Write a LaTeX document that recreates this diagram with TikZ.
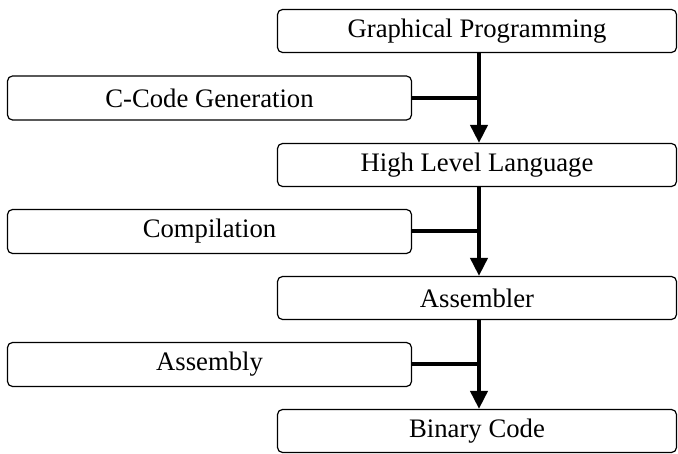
\documentclass[tikz,border=0pt]{standalone}
\usepackage{fontspec}
\setmainfont{Liberation Serif}
\usetikzlibrary{arrows.meta}
\begin{document}
\begin{tikzpicture}[x=1pt,y=-1pt,
  box/.style={draw=black, line width=1.2pt, rounded corners=5pt, fill=white,
    inner sep=0pt, font=\fontsize{26.7}{30}\selectfont},
  rbox/.style={box, minimum width=399pt, minimum height=43pt},
  lbox/.style={box, minimum width=404pt, minimum height=44pt},
  spine/.style={line width=4pt, -{Triangle[width=17pt,length=18pt]}},
  feed/.style={line width=4pt}]
\useasboundingbox (0,0) rectangle (678,454);
\node[rbox] (g) at (477,31) {Graphical Programming};
\node[lbox] (c) at (209.5,98) {C-Code Generation};
\node[rbox] (h) at (477,165) {High Level Language};
\node[lbox] (p) at (209.5,231.5) {Compilation};
\node[rbox] (a) at (477,298) {Assembler};
\node[lbox] (y) at (209.5,364.5) {Assembly};
\node[rbox] (b) at (477,431) {Binary Code};
\coordinate (s1) at ([xshift=2pt]g.south);
\coordinate (s2) at ([xshift=2pt]h.south);
\coordinate (s3) at ([xshift=2pt]a.south);
\draw[feed] (c.east) -- (c.east -| s1);
\draw[feed] (p.east) -- (p.east -| s2);
\draw[feed] (y.east) -- (y.east -| s3);
\draw[spine] (s1) -- (s1 |- h.north);
\draw[spine] (s2) -- (s2 |- a.north);
\draw[spine] (s3) -- (s3 |- b.north);
\end{tikzpicture}
\end{document}
